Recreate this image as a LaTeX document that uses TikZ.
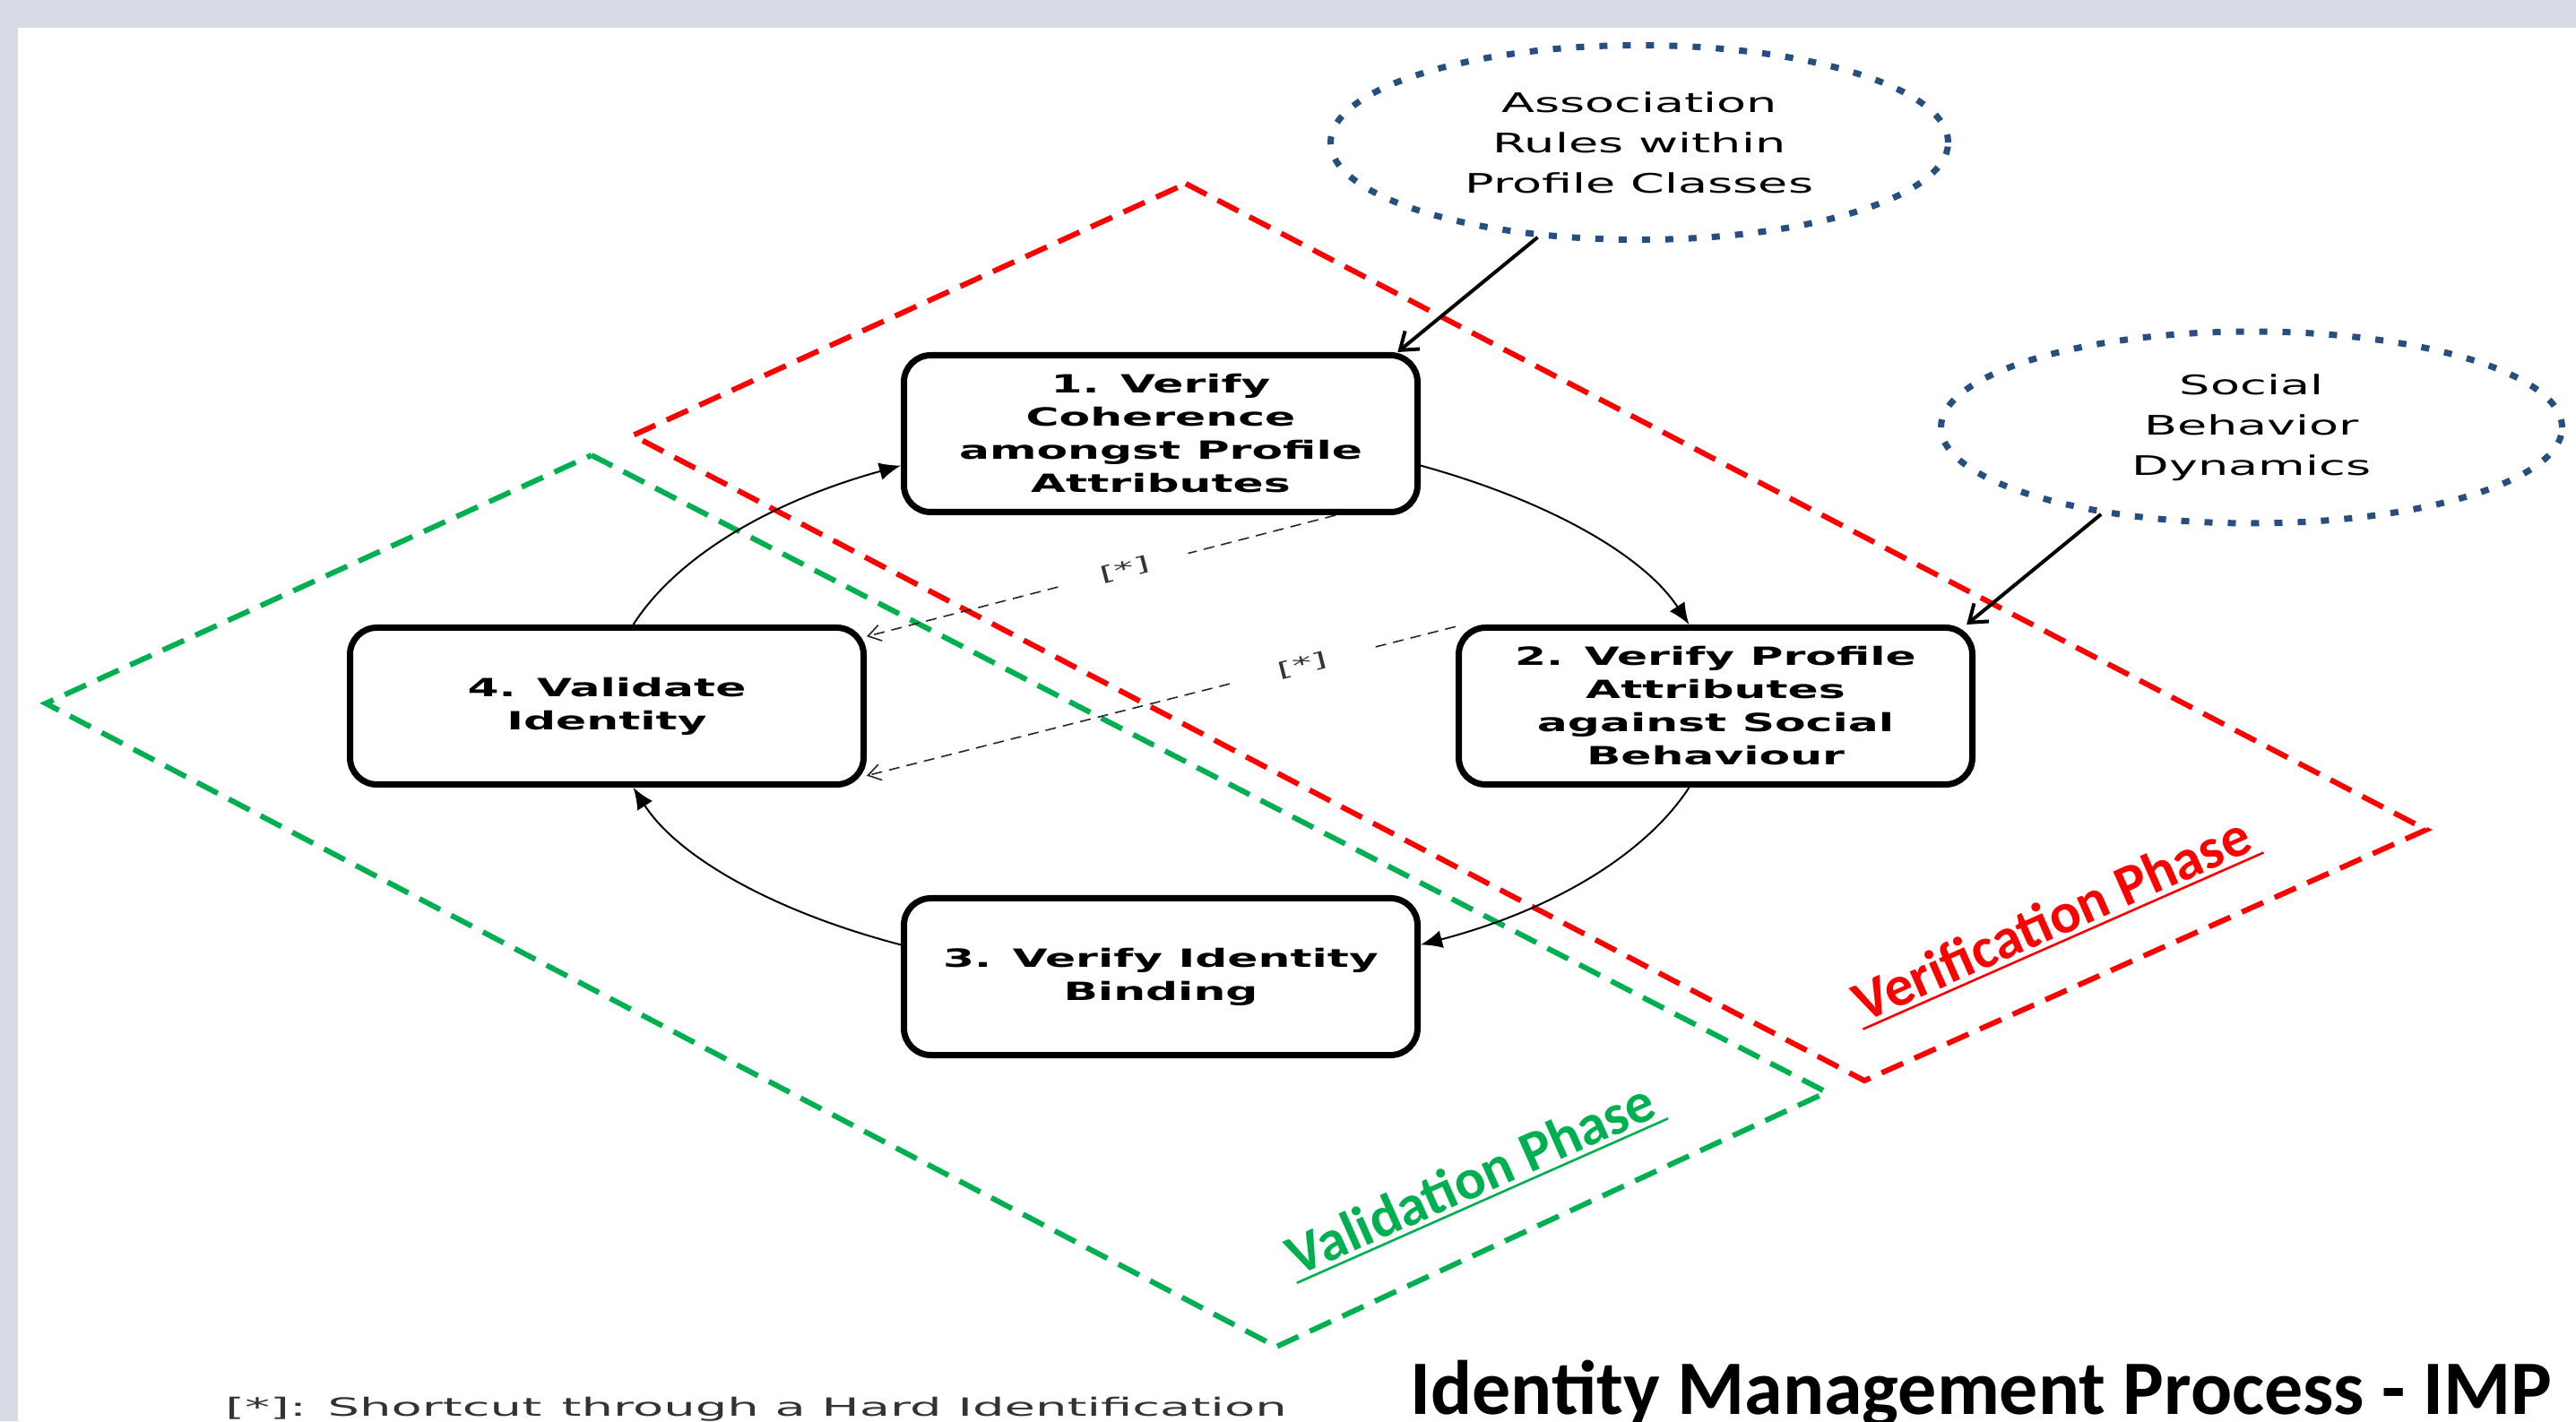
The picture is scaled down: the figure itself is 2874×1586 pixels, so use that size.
\documentclass[tikz,border=0pt]{standalone}
\usepackage{fontspec}
\setmainfont{DejaVu Sans}
\newfontfamily\boxfont[FakeStretch=1.8]{DejaVu Sans}
\newfontfamily\ellfont[FakeStretch=1.8]{DejaVu Sans}
\newfontfamily\footfont[FakeStretch=2.0]{DejaVu Sans}
\newfontfamily\calfont{Carlito}
\usetikzlibrary{shapes.geometric,arrows.meta}
\definecolor{bggray}{RGB}{214,219,229}
\definecolor{vred}{RGB}{255,0,0}
\definecolor{vgreen}{RGB}{0,176,80}
\definecolor{dotblue}{RGB}{38,78,128}
\newcommand\ulabel[1]{\setbox0=\hbox{#1}\rlap{\kern-2pt\vrule height -2.5pt depth 3.8pt width \dimexpr\wd0+6pt\relax}\box0}
\begin{document}
\begin{tikzpicture}[x=0.5pt,y=0.5pt,
  stepbox/.style={draw=black, line width=3.5pt, rounded corners=15pt, fill=white,
    minimum width=286.5pt, minimum height=87.5pt, inner sep=0pt, align=center,
    font=\boxfont\bfseries\fontsize{14}{18.5}\selectfont},
  cloud/.style={ellipse, draw=dotblue, line width=3.5pt, dash pattern=on 4.5pt off 8.5pt,
    minimum width=344.5pt, minimum height=108.5pt, inner sep=0pt, align=center,
    font=\ellfont\fontsize{15}{22.5}\selectfont},
  cyc/.style={line width=1pt, -{Latex[length=12pt,width=10pt]}},
  feed/.style={line width=2pt, -{Straight Barb[length=9pt,width=13pt]}},
  shortcut/.style={line width=0.8pt, draw=black!85, dash pattern=on 6pt off 4pt,
    -{Straight Barb[length=7pt,width=9pt]}},
  star/.style={sloped, fill=white, inner sep=0pt, minimum height=10pt,
    font=\footfont\fontsize{11}{11}\selectfont, text=black!80},
  phase/.style={line width=3pt, dash pattern=on 13pt off 7pt},
  phaselabel/.style={inner sep=0pt, font=\calfont\bfseries\fontsize{32}{32}\selectfont}
]
\useasboundingbox (0,0) rectangle (2874,1586);
\fill[bggray] (0,0) rectangle (2874,1586);
\fill[white] (20,0) rectangle (2874,1555);

% phase regions
\draw[phase, vred] (1323,1381) -- (2707,660) -- (2080,380) -- (706,1100) -- cycle;
\draw[phase, vgreen] (660,1078) -- (2038,367) -- (1424,83) -- (51,801) -- cycle;

% process steps
\node[stepbox] (b1) at (1295,1102) {1. Verify\\Coherence\\amongst Profile\\Attributes};
\node[stepbox] (b2) at (1914,798) {2. Verify Profile\\Attributes\\against Social\\Behaviour};
\node[stepbox] (b3) at (1295,496) {3. Verify Identity\\Binding};
\node[stepbox] (b4) at (677,798) {4. Validate\\Identity};

% knowledge sources
\node[cloud] (e1) at (1829,1427) {Association\\Rules within\\Profile Classes};
\node[cloud, minimum width=346.5pt, minimum height=107pt] (e2) at (2512,1109) {Social\\Behavior\\Dynamics};

% cycle
\draw[cyc] (b1.-7.4) .. controls (1728,1027) and (1834,966) .. (b2.108);
\draw[cyc] (b2.-108) .. controls (1834,630) and (1728,569) .. (b3.7);
\draw[cyc] (b3.173) .. controls (862,569) and (756,630) .. (b4.-72.5);
\draw[cyc] (b4.72.5) .. controls (756,966) and (862,1027) .. (b1.187.4);

% inputs
\draw[feed] (e1.223.7) -- (b1.19.6);
\draw[feed] (e2.210.8) -- (b2.18);

% shortcuts
\draw[shortcut] (b1.-25) -- node[star, pos=0.45, minimum width=73pt] {[*]} (b4.15);
\draw[shortcut] (b2.163) -- node[star, pos=0.26, minimum width=77pt] {[*]} (b4.-15);

% phase labels
\node[phaselabel, rotate=23.8, text=vred] (vlab) at (2290,558) {\ulabel{Verification Phase}};
\node[phaselabel, rotate=23.9, text=vgreen] (glab) at (1642,268) {\ulabel{Validation Phase}};

% footer and title
\node[anchor=base west, inner sep=0pt, font=\footfont\fontsize{14}{14}\selectfont, text=black!80] (foot) at (251,6) {[*]: Shortcut\, through a Hard Identification};
\node[anchor=base west, inner sep=0pt, font=\calfont\bfseries\fontsize{43}{43}\selectfont] (title) at (1573,8) {Identity Management Process - IMP};
\end{tikzpicture}
\end{document}
